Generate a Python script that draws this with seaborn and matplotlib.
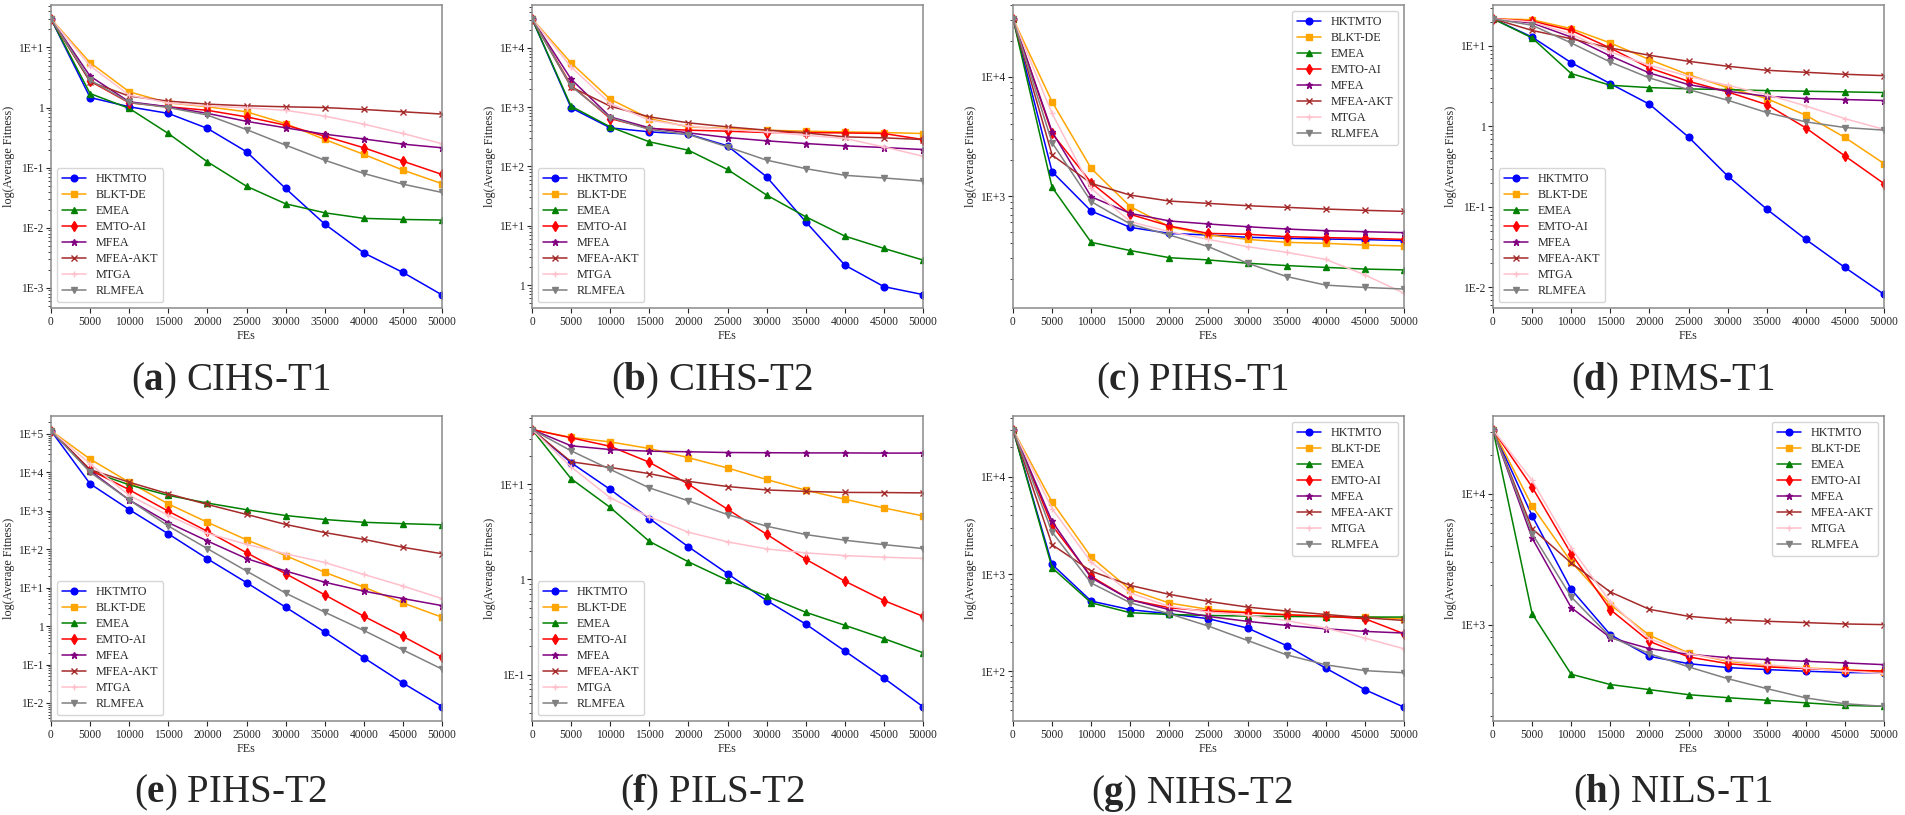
import numpy as np
import matplotlib
matplotlib.use("Agg")
import matplotlib.pyplot as plt
import matplotlib.ticker as mticker
import seaborn as sns

# ---------------- data ----------------
FES = [0, 5000, 10000, 15000, 20000, 25000, 30000, 35000, 40000, 45000, 50000]
ALGOS = ["HKTMTO", "BLKT-DE", "EMEA", "EMTO-AI", "MFEA", "MFEA-AKT", "MTGA", "RLMFEA"]

PANEL_LETTERS = ["a", "b", "c", "d", "e", "f", "g", "h"]
PANEL_NAMES = ["CIHS-T1", "CIHS-T2", "PIHS-T1", "PIMS-T1",
               "PIHS-T2", "PILS-T2", "NIHS-T2", "NILS-T1"]

# (a) CIHS-T1
A_HKTMTO = [30, 1.47, 1.03, 0.8, 0.45, 0.184, 0.045, 0.0115, 0.0038, 0.0018, 0.00076]
A_BLKTDE = [30, 5.6, 1.83, 1.2, 1.03, 0.85, 0.54, 0.294, 0.166, 0.091, 0.054]
A_EMEA = [30, 1.71, 0.97, 0.37, 0.125, 0.049, 0.025, 0.0177, 0.0143, 0.0137, 0.0134]
A_EMTOAI = [30, 2.75, 1.2, 1.03, 0.9, 0.7, 0.51, 0.334, 0.214, 0.128, 0.077]
A_MFEA = [30, 3.33, 1.25, 1.03, 0.8, 0.59, 0.46, 0.36, 0.3, 0.246, 0.214]
A_MFEAAKT = [30, 2.69, 1.55, 1.28, 1.14, 1.07, 1.03, 1.0, 0.93, 0.85, 0.78]
A_MTGA = [30, 4.95, 1.61, 1.2, 1.06, 0.99, 0.9, 0.72, 0.53, 0.37, 0.25]
A_RLMFEA = [30, 2.86, 1.22, 1.0, 0.75, 0.43, 0.237, 0.133, 0.08, 0.053, 0.0386]

# (b) CIHS-T2
B_HKTMTO = [31200, 975, 449, 384, 351, 223, 67, 11.7, 2.17, 0.94, 0.69]
B_BLKTDE = [31200, 5580, 1365, 644, 466, 437, 410, 394, 384, 374, 360]
B_EMEA = [31200, 1040, 466, 261, 188, 89, 33, 14.2, 6.7, 4.15, 2.64]
B_EMTOAI = [31200, 2350, 644, 437, 410, 394, 374, 374, 368, 360, 285]
B_MFEA = [31200, 2970, 687, 449, 369, 308, 271, 244, 223, 209, 193]
B_MFEAAKT = [31200, 2200, 1040, 687, 545, 466, 410, 369, 316, 304, 285]
B_MTGA = [31200, 4790, 1150, 604, 479, 421, 384, 337, 297, 214, 149]
B_RLMFEA = [31200, 2260, 670, 421, 346, 214, 128, 92, 71, 64, 57]

# (c) PIHS-T1
C_HKTMTO = [30800, 1600, 748, 546, 486, 471, 451, 442, 436, 431, 423]
C_BLKTDE = [30800, 6170, 1706, 815, 553, 471, 433, 409, 401, 388, 381]
C_EMEA = [30800, 1184, 409, 349, 304, 291, 273, 261, 252, 244, 240]
C_EMTOAI = [30800, 3350, 1294, 702, 561, 486, 478, 456, 448, 442, 433]
C_MFEA = [30800, 3460, 986, 716, 618, 583, 553, 529, 512, 502, 493]
C_MFEAAKT = [30800, 2210, 1277, 1018, 908, 868, 830, 804, 778, 759, 744]
C_MTGA = [30800, 4930, 1159, 610, 502, 433, 376, 337, 294, 218, 153]
C_RLMFEA = [30800, 2800, 898, 582, 471, 376, 273, 211, 179, 171, 166]

# (d) PIMS-T1
D_HKTMTO = [21.8, 12.9, 6.2, 3.4, 1.89, 0.74, 0.243, 0.094, 0.0395, 0.0177, 0.0082]
D_BLKTDE = [21.8, 21.2, 16.4, 10.9, 6.77, 4.4, 3.04, 2.22, 1.38, 0.73, 0.346]
D_EMEA = [21.8, 12.6, 4.54, 3.25, 3.04, 2.93, 2.87, 2.79, 2.74, 2.69, 2.64]
D_EMTOAI = [21.8, 20.4, 15.6, 9.44, 5.33, 3.64, 2.69, 1.87, 0.96, 0.43, 0.195]
D_MFEA = [21.8, 19.3, 12.9, 7.52, 4.62, 3.31, 2.74, 2.37, 2.22, 2.16, 2.1]
D_MFEAAKT = [21.8, 15.6, 12.3, 9.44, 7.66, 6.45, 5.6, 4.99, 4.71, 4.45, 4.28]
D_MTGA = [21.8, 19.9, 14.0, 8.43, 5.76, 4.2, 3.25, 2.49, 1.8, 1.25, 0.92]
D_RLMFEA = [21.8, 18.1, 10.9, 6.32, 4.01, 2.87, 2.12, 1.49, 1.14, 0.97, 0.9]

# (e) PIHS-T2
E_HKTMTO = [120000, 5000, 1070, 250, 56, 13.5, 3.1, 0.7, 0.15, 0.033, 0.0081]
E_BLKTDE = [120000, 22000, 5500, 1500, 500, 175, 68, 25, 10.3, 4.0, 1.7]
E_EMEA = [120000, 10700, 4700, 2500, 1580, 1060, 750, 590, 500, 460, 430]
E_EMTOAI = [120000, 11500, 3500, 970, 290, 81, 23, 6.5, 1.8, 0.54, 0.155]
E_MFEA = [120000, 11000, 1900, 490, 163, 57, 27, 13.8, 8.1, 5.2, 3.4]
E_MFEAAKT = [120000, 11700, 5500, 2750, 1450, 800, 440, 270, 180, 112, 76]
E_MTGA = [120000, 16500, 2500, 760, 260, 133, 76, 45, 22, 11, 5.2]
E_RLMFEA = [120000, 10000, 1900, 400, 103, 27, 7.2, 2.3, 0.77, 0.24, 0.076]

# (f) PILS-T2
F_HKTMTO = [37.5, 16.8, 8.8, 4.36, 2.2, 1.15, 0.6, 0.34, 0.177, 0.092, 0.046]
F_BLKTDE = [37.5, 31, 27.8, 23.7, 19, 14.8, 11.2, 8.65, 6.95, 5.63, 4.64]
F_EMEA = [37.5, 11.4, 5.7, 2.51, 1.53, 0.98, 0.667, 0.452, 0.33, 0.239, 0.17]
F_EMTOAI = [37.5, 30.7, 25, 17, 10, 5.46, 2.98, 1.63, 0.96, 0.6, 0.41]
F_MFEA = [37.5, 25.3, 23.1, 22.2, 21.9, 21.5, 21.4, 21.3, 21.3, 21.2, 21.2]
F_MFEAAKT = [37.5, 17.2, 15, 12.9, 10.7, 9.45, 8.7, 8.4, 8.2, 8.17, 8.1]
F_MTGA = [37.5, 15.2, 7.2, 4.54, 3.13, 2.48, 2.09, 1.9, 1.78, 1.71, 1.66]
F_RLMFEA = [37.5, 22.4, 14.3, 9.15, 6.68, 4.8, 3.62, 2.96, 2.58, 2.32, 2.11]

# (g) NIHS-T2
G_HKTMTO = [30400, 1256, 528, 431, 391, 348, 279, 184, 108, 65, 43]
G_BLKTDE = [30400, 5500, 1497, 690, 504, 434, 407, 382, 367, 362, 348]
G_EMEA = [30400, 1161, 507, 401, 385, 376, 370, 367, 365, 362, 362]
G_EMTOAI = [30400, 3160, 946, 545, 451, 417, 401, 382, 370, 348, 244]
G_MFEA = [30400, 3475, 916, 545, 431, 367, 327, 297, 274, 258, 248]
G_MFEAAKT = [30400, 2000, 1074, 765, 619, 524, 458, 417, 385, 356, 334]
G_MTGA = [30400, 4690, 1327, 638, 466, 407, 376, 334, 279, 220, 171]
G_RLMFEA = [30400, 2703, 809, 507, 391, 292, 208, 148, 117, 102, 97]

# (h) NILS-T1
H_HKTMTO = [31000, 6800, 1862, 838, 572, 503, 469, 453, 440, 430, 427]
H_BLKTDE = [31000, 8090, 3020, 1423, 829, 607, 524, 488, 466, 453, 434]
H_EMEA = [31000, 1214, 417, 348, 318, 291, 276, 264, 252, 241, 237]
H_EMTOAI = [31000, 11300, 3490, 1303, 745, 566, 503, 475, 461, 447, 442]
H_MFEA = [31000, 4600, 1350, 795, 655, 593, 559, 540, 524, 509, 494]
H_MFEAAKT = [31000, 5430, 2965, 1778, 1309, 1158, 1092, 1061, 1036, 1012, 1000]
H_MTGA = [31000, 12700, 3865, 1490, 781, 600, 533, 494, 466, 442, 422]
H_RLMFEA = [31000, 4970, 1630, 805, 600, 475, 386, 324, 275, 248, 237]

PANELS = [
    [A_HKTMTO, A_BLKTDE, A_EMEA, A_EMTOAI, A_MFEA, A_MFEAAKT, A_MTGA, A_RLMFEA],
    [B_HKTMTO, B_BLKTDE, B_EMEA, B_EMTOAI, B_MFEA, B_MFEAAKT, B_MTGA, B_RLMFEA],
    [C_HKTMTO, C_BLKTDE, C_EMEA, C_EMTOAI, C_MFEA, C_MFEAAKT, C_MTGA, C_RLMFEA],
    [D_HKTMTO, D_BLKTDE, D_EMEA, D_EMTOAI, D_MFEA, D_MFEAAKT, D_MTGA, D_RLMFEA],
    [E_HKTMTO, E_BLKTDE, E_EMEA, E_EMTOAI, E_MFEA, E_MFEAAKT, E_MTGA, E_RLMFEA],
    [F_HKTMTO, F_BLKTDE, F_EMEA, F_EMTOAI, F_MFEA, F_MFEAAKT, F_MTGA, F_RLMFEA],
    [G_HKTMTO, G_BLKTDE, G_EMEA, G_EMTOAI, G_MFEA, G_MFEAAKT, G_MTGA, G_RLMFEA],
    [H_HKTMTO, H_BLKTDE, H_EMEA, H_EMTOAI, H_MFEA, H_MFEAAKT, H_MTGA, H_RLMFEA],
]

YLIMS = [(4.6e-4, 51), (0.41, 53000), (115, 40100), (0.00555, 32.3),
         (0.0034, 2.9e5), (0.0326, 52), (31, 42000), (183, 39500)]
LEGEND_LOCS = ["lower left", "lower left", "upper right", "lower left",
               "lower left", "lower left", "upper right", "upper right"]

# ---------------- style ----------------
COLORS = ["blue", "orange", "green", "red", "purple", "brown", "pink", "gray"]
MARKERS = ["o", "s", "^", "d", "*", "x", "+", "v"]

sns.set_style("ticks")
plt.rcParams["font.family"] = ["Liberation Serif", "DejaVu Serif"]
plt.rcParams["mathtext.fontset"] = "custom"
plt.rcParams["mathtext.rm"] = "Liberation Serif"
plt.rcParams["mathtext.bf"] = "Liberation Serif:bold"
plt.rcParams["xtick.direction"] = "out"
plt.rcParams["ytick.direction"] = "out"

W, H = 1905, 815
fig = plt.figure(figsize=(W / 100, H / 100), dpi=100)

col_left = [51, 532, 1013, 1493]
ax_w = 391
row_top = [5, 416]
ax_h = [303, 305]
cap_x = [231, 712, 1192, 1673]
cap_y = [381, 793]


def yfmt(v, pos):
    e = int(round(np.log10(v)))
    return "1" if e == 0 else f"1E{e:+d}"


for i in range(8):
    r, c = divmod(i, 4)
    left = col_left[c] / W
    bottom = 1 - (row_top[r] + ax_h[r]) / H
    ax = fig.add_axes([left, bottom, ax_w / W, ax_h[r] / H])
    for name, vals, col, mk in zip(ALGOS, PANELS[i], COLORS, MARKERS):
        sns.lineplot(x=FES, y=vals, ax=ax, color=col, marker=mk, label=name,
                     linewidth=1.1, markersize=4.8, markeredgecolor=col,
                     markeredgewidth=1.0, legend=False)
    ax.set_yscale("log")
    ax.set_xlim(0, 50000)
    ax.set_ylim(*YLIMS[i])
    ax.set_xticks(FES)
    ax.xaxis.set_major_formatter(mticker.FuncFormatter(lambda v, p: f"{int(v)}"))
    ax.yaxis.set_major_locator(mticker.LogLocator(base=10, numticks=20))
    ax.yaxis.set_minor_locator(mticker.LogLocator(base=10, subs=np.arange(2, 10), numticks=20))
    ax.yaxis.set_major_formatter(mticker.FuncFormatter(yfmt))
    ax.yaxis.set_minor_formatter(mticker.NullFormatter())
    ax.tick_params(axis="both", which="major", labelsize=8.3, length=3.5, width=0.8, pad=2)
    ax.tick_params(axis="y", which="minor", length=2, width=0.6)
    for sp in ax.spines.values():
        sp.set_visible(True)
        sp.set_color("#8a8a8a")
        sp.set_linewidth(1.1)
    ax.set_xlabel("FEs", fontsize=8.7, labelpad=2)
    ax.set_ylabel("log(Average Fitness)", fontsize=8.7, labelpad=2)
    handles, labels = ax.get_legend_handles_labels()
    ax.legend(handles, labels, loc=LEGEND_LOCS[i], fontsize=8.7, labelspacing=0.33,
              handlelength=2.0, handletextpad=0.8, borderpad=0.4, frameon=True,
              fancybox=True, edgecolor="#cccccc")
    fig.text(cap_x[c] / W, 1 - cap_y[r] / H,
             "(" + r"$\mathbf{" + PANEL_LETTERS[i] + "}$" + ") " + PANEL_NAMES[i],
             fontsize=28, ha="center", va="center")

fig.savefig("out.png", dpi=100)
